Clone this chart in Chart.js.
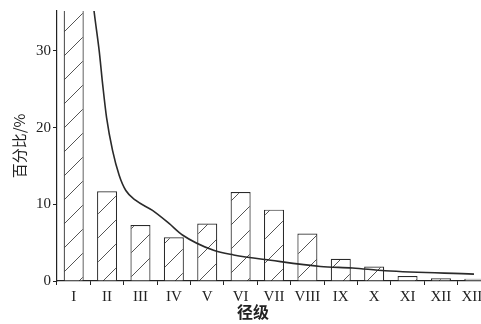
<!DOCTYPE html>
<html><head><meta charset="utf-8">
<script src="https://cdn.jsdelivr.net/npm/chart.js@4"></script>
<style>html,body{margin:0;padding:0;background:#fff}#wrap{width:481px;height:324px}</style>
</head><body><div id="wrap"><canvas id="c" width="481" height="324"></canvas></div>
<script>
const categories = ["I","II","III","IV","V","VI","VII","VIII","IX","X","XI","XII","XIII"];
const barValues = [38, 11.7, 7.3, 5.7, 7.5, 11.6, 9.3, 6.2, 2.9, 1.9, 0.65, 0.35, 0.3];
const curveX = [0.55, 0.615, 0.764, 0.866, 0.985, 1.165, 1.362, 1.562, 1.861, 2.36, 2.856, 3.257, 4.19, 4.79, 5.9, 7.39, 8.35, 9.33, 11.99];
const curveY = [37.5, 35, 30, 25.7, 21.3, 17.0, 13.8, 11.8, 10.5, 9.2, 7.5, 6.0, 4.0, 3.4, 2.7, 1.9, 1.7, 1.34, 0.9];
const yTicks = [0, 10, 20, 30];

function hatch(){
  const s = 24, c = document.createElement('canvas');
  c.width = s; c.height = s;
  const g = c.getContext('2d');
  g.fillStyle = '#fff'; g.fillRect(0,0,s,s);
  g.strokeStyle = '#555'; g.lineWidth = 1;
  g.beginPath();
  g.moveTo(-2, s+2); g.lineTo(s+2, -2);
  g.moveTo(-2, 2); g.lineTo(2, -2);
  g.moveTo(s-2, s+2); g.lineTo(s+2, s-2);
  g.stroke();
  return g.createPattern(c, 'repeat');
}

const serif = "'Liberation Serif','DejaVu Serif',serif";
new Chart(document.getElementById('c'), {
  data: {
    datasets: [
      { type: 'line', data: curveX.map((x,i)=>({x, y: curveY[i]})), borderColor: '#2a2a2a', borderWidth: 1.6,
        pointRadius: 0, cubicInterpolationMode: 'monotone', fill: false, order: 0 },
      { type: 'bar', data: barValues.map((v,i)=>({x: i, y: v})), backgroundColor: hatch(), borderColor: '#2a2a2a',
        borderWidth: 1.2, barPercentage: 0.6, categoryPercentage: 1, order: 1 }
    ]
  },
  options: {
    animation: false, responsive: false,
    layout: { padding: { top: 11, right: 0, left: 0, bottom: 0 } },
    plugins: { legend: { display: false }, tooltip: { enabled: false } },
    scales: {
      x: {
        type: 'linear', min: -0.5, max: 12.2, offset: false,
        afterBuildTicks: s => { s.ticks = categories.map((_, i) => ({ value: i })); },
        afterFit: s => { s.height = 43; s.paddingLeft = 0; s.paddingRight = 0; },
        ticks: { autoSkip: false, maxRotation: 0, color: '#222', padding: 3,
          font: { family: serif, size: 15 }, callback: v => categories[v] },
        grid: { display: true, drawOnChartArea: false, drawTicks: true, tickLength: 4, color: '#222', tickWidth: 1 },
        border: { display: true, color: '#222', width: 1.2 },
        title: { display: true, text: '径级\u3000\u3000', color: '#222', padding: { top: 0, bottom: 2 },
          font: { family: "'Noto Sans CJK SC'", size: 16, weight: 'bold' } }
      },
      y: {
        min: 0, max: 35.2,
        afterBuildTicks: s => { s.ticks = yTicks.map(v => ({ value: v })); },
        afterFit: s => { s.width = 57; s.paddingTop = 0; s.paddingBottom = 0; },
        ticks: { color: '#222', padding: 2, font: { family: serif, size: 15 } },
        grid: { display: true, drawOnChartArea: false, drawTicks: true, tickLength: 4, color: '#222', tickWidth: 1 },
        border: { display: true, color: '#222', width: 1.2 },
        title: { display: true, text: '百分比/%', color: '#222', padding: { top: 10, bottom: 0 },
          font: { family: "'Noto Sans CJK SC'", size: 15 } }
      }
    }
  }
});
</script></body></html>
